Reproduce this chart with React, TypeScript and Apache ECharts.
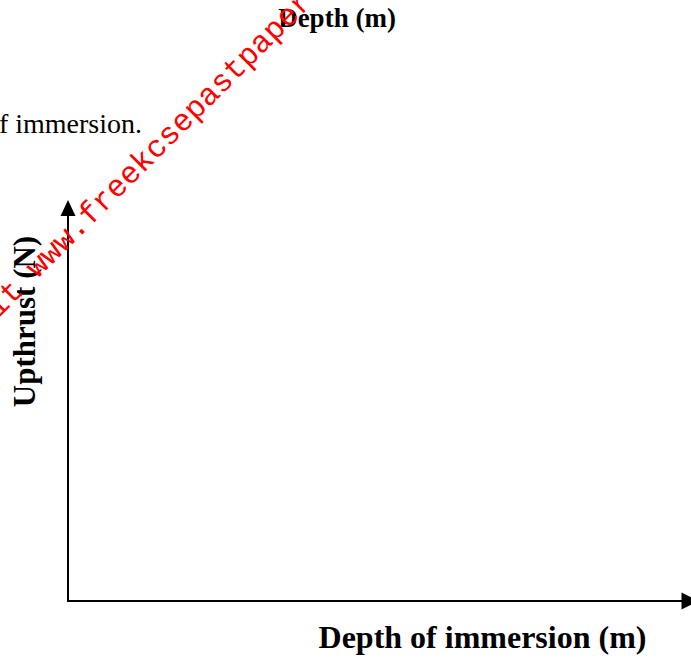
import React, { useEffect, useRef } from "react";
import * as echarts from "echarts";

// Empty answer grid: no plotted values in the reference
const depthValues: number[] = [];
const upthrustValues: number[] = [];
const xAxisTitle = "Depth of immersion (m)";
const yAxisTitle = "Upthrust (N)";
const topHeading = "Depth (m)";
const questionFragment = "of immersion.";
const watermarkText = "Visit www.freekcsepastpapers.com for more";

export default function App() {
  const ref = useRef<HTMLDivElement>(null);
  useEffect(() => {
    if (!ref.current) return;
    const chart = echarts.init(ref.current, null, { renderer: "svg" });
    const seriesData = depthValues.map((d, i) => [d, upthrustValues[i]]);
    const wmAngle = (45 * Math.PI) / 180;
    chart.setOption({
      animation: false,
      backgroundColor: "#ffffff",
      grid: { left: 68, right: 1, top: 208, bottom: 60, containLabel: false, outerBoundsMode: "none" },
      xAxis: {
        type: "value",
        min: 0,
        max: 10,
        axisLine: {
          show: true,
          onZero: false,
          symbol: ["none", "triangle"],
          symbolSize: [17, 17],
          lineStyle: { color: "#000", width: 2 },
        },
        axisTick: { show: false },
        axisLabel: { show: false },
        splitLine: { show: false },
      },
      yAxis: {
        type: "value",
        min: 0,
        max: 10,
        axisLine: {
          show: true,
          onZero: false,
          symbol: ["none", "triangle"],
          symbolSize: [15, 16],
          lineStyle: { color: "#000", width: 2 },
        },
        axisTick: { show: false },
        axisLabel: { show: false },
        splitLine: { show: false },
      },
      series: [{ type: "line", data: seriesData, showSymbol: false }],
      graphic: [
        {
          type: "text",
          x: 337,
          y: 17.5,
          style: {
            text: topHeading,
            fontFamily: "Liberation Serif",
            fontWeight: "bold",
            fontSize: 27,
            fill: "#000",
            textAlign: "center",
            textVerticalAlign: "middle",
          },
        },
        {
          type: "text",
          x: 142,
          y: 123.5,
          style: {
            text: questionFragment,
            fontFamily: "Liberation Serif",
            fontSize: 28,
            fill: "#000",
            textAlign: "right",
            textVerticalAlign: "middle",
          },
        },
        {
          type: "text",
          x: 482.5,
          y: 637,
          style: {
            text: xAxisTitle,
            fontFamily: "Liberation Serif",
            fontWeight: "bold",
            fontSize: 32,
            fill: "#000",
            textAlign: "center",
            textVerticalAlign: "middle",
          },
        },
        {
          type: "text",
          x: 24.5,
          y: 321.5,
          rotation: Math.PI / 2,
          style: {
            text: yAxisTitle,
            fontFamily: "Liberation Serif",
            fontWeight: "bold",
            fontSize: 31,
            fill: "#000",
            textAlign: "center",
            textVerticalAlign: "middle",
          },
        },
        {
          type: "text",
          x: -47.3,
          y: 352,
          rotation: wmAngle,
          z: 100,
          style: {
            text: watermarkText,
            fontFamily: "Liberation Mono",
            fontSize: 31,
            fill: "#ff0000",
            textAlign: "left",
            textVerticalAlign: "middle",
          },
        },
      ],
    });
    return () => chart.dispose();
  }, []);
  return (
    <div
      ref={ref}
      style={{ position: "fixed", left: 0, top: 0, width: 691, height: 661 }}
    />
  );
}
